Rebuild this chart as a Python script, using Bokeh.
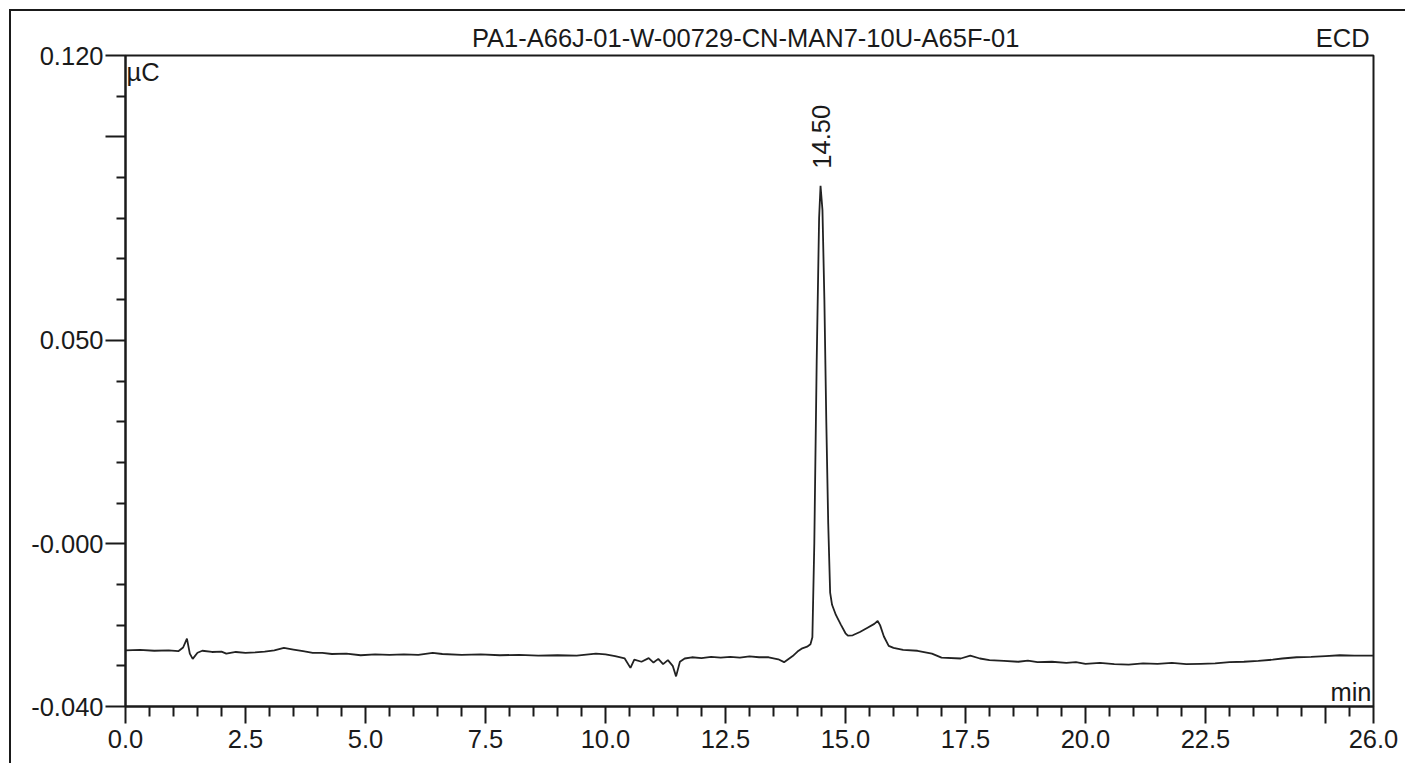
from bokeh.plotting import figure
from bokeh.models import (FixedTicker, Label, Range1d, ColumnDataSource, LinearAxis,
                          InlineStyleSheet)
from bokeh.core.properties import value
from bokeh.embed import file_html
from bokeh.resources import INLINE

# ---- data ----
time_min = [0.00, 0.30, 0.60, 0.90, 1.10, 1.20, 1.28, 1.34, 1.40, 1.50, 1.60, 1.80,
            2.00, 2.10, 2.30, 2.50, 2.70, 2.90, 3.10, 3.30, 3.50, 3.70, 3.90, 4.10,
            4.30, 4.60, 4.90, 5.20, 5.50, 5.80, 6.10, 6.40, 6.60, 7.00, 7.40, 7.80,
            8.20, 8.60, 9.00, 9.40, 9.80, 10.00, 10.20, 10.40, 10.52, 10.60, 10.75,
            10.90, 11.00, 11.10, 11.20, 11.30, 11.40, 11.47, 11.55, 11.65, 11.80,
            12.00, 12.20, 12.40, 12.60, 12.80, 13.00, 13.20, 13.40, 13.60, 13.72,
            13.90, 14.00, 14.10, 14.20, 14.27, 14.31, 14.35, 14.40, 14.45, 14.48,
            14.52, 14.56, 14.60, 14.64, 14.68, 14.72, 14.80, 14.90, 15.00, 15.05,
            15.15, 15.30, 15.45, 15.60, 15.67, 15.72, 15.80, 15.90, 16.00, 16.20,
            16.50, 16.80, 17.00, 17.40, 17.60, 17.80, 18.00, 18.30, 18.60, 18.80,
            19.00, 19.30, 19.60, 19.80, 20.00, 20.30, 20.60, 20.90, 21.20, 21.50,
            21.80, 22.10, 22.40, 22.70, 23.00, 23.30, 23.60, 23.90, 24.10, 24.40,
            24.70, 25.00, 25.30, 25.60, 26.00]
signal_uC = [-0.0262, -0.0261, -0.0263, -0.0262, -0.0264, -0.0255, -0.0233, -0.0270,
             -0.0283, -0.0268, -0.0263, -0.0266, -0.0265, -0.0270, -0.0266, -0.0268,
             -0.0267, -0.0265, -0.0262, -0.0256, -0.0260, -0.0264, -0.0268, -0.0268,
             -0.0271, -0.0270, -0.0274, -0.0272, -0.0273, -0.0272, -0.0273, -0.0268,
             -0.0271, -0.0273, -0.0272, -0.0274, -0.0273, -0.0275, -0.0274, -0.0275,
             -0.0270, -0.0272, -0.0276, -0.0282, -0.0305, -0.0285, -0.0290, -0.0281,
             -0.0292, -0.0283, -0.0296, -0.0286, -0.0300, -0.0326, -0.0290, -0.0282,
             -0.0279, -0.0281, -0.0278, -0.0280, -0.0278, -0.0280, -0.0277, -0.0279,
             -0.0279, -0.0284, -0.0291, -0.0276, -0.0265, -0.0257, -0.0253, -0.0247,
             -0.0230, 0.0000, 0.0450, 0.0800, 0.0880, 0.0820, 0.0600, 0.0300, 0.0050,
             -0.0120, -0.0150, -0.0175, -0.0198, -0.0220, -0.0226, -0.0225, -0.0217,
             -0.0207, -0.0197, -0.0190, -0.0200, -0.0228, -0.0251, -0.0256, -0.0261,
             -0.0263, -0.0270, -0.0280, -0.0282, -0.0275, -0.0282, -0.0286, -0.0288,
             -0.0290, -0.0287, -0.0291, -0.0290, -0.0293, -0.0291, -0.0295, -0.0293,
             -0.0296, -0.0297, -0.0294, -0.0295, -0.0293, -0.0296, -0.0295, -0.0294,
             -0.0291, -0.0290, -0.0288, -0.0285, -0.0282, -0.0279, -0.0278, -0.0276,
             -0.0274, -0.0275, -0.0275]

peak_rt = [14.50]
peak_height = [0.0880]
peak_text = ["14.50"]

x_major = [0.0, 2.5, 5.0, 7.5, 10.0, 12.5, 15.0, 17.5, 20.0, 22.5, 25.0, 26.0]
x_labels = ["0.0", "2.5", "5.0", "7.5", "10.0", "12.5", "15.0", "17.5", "20.0", "22.5", "", "26.0"]
y_major = [-0.04, 0.0, 0.05, 0.1, 0.12]
y_labels = ["-0.040", "-0.000", "0.050", "", "0.120"]
y_minor = [-0.03, -0.02, -0.01, 0.01, 0.02, 0.03, 0.04, 0.06, 0.07, 0.08, 0.09, 0.11]

header_texts = ["PA1-A66J-01-W-00729-CN-MAN7-10U-A65F-01", "ECD"]
y_unit_text = "µC"
x_unit_text = "min"

X_MIN, X_MAX = 0.0, 26.0
Y_MIN, Y_MAX = -0.040, 0.120

FONT = "Liberation Sans"
FS = "25.5px"
INK = "#1a1a1a"

# header text anchor positions (layout, in minutes along the top edge)
header_pos = [12.92, 25.36]

x_minor = [k * 0.5 for k in range(0, 53) if (k * 0.5) not in x_major]

frame_css = InlineStyleSheet(css="""
:host::after {
  content: "";
  position: absolute;
  left: 9px; top: 9px; right: 0px; bottom: 0px;
  border-left: 2px solid #1a1a1a;
  border-top: 2px solid #1a1a1a;
  pointer-events: none;
}
""")

p = figure(width=1405, height=763, output_backend="svg", toolbar_location=None,
           x_range=Range1d(X_MIN, X_MAX), y_range=Range1d(Y_MIN, Y_MAX),
           min_border_left=125, min_border_right=32, min_border_top=55,
           min_border_bottom=57, stylesheets=[frame_css])
p.background_fill_color = "white"
p.border_fill_color = "white"
p.grid.visible = False
p.outline_line_color = INK
p.outline_line_width = 2

src = ColumnDataSource(dict(t=time_min, v=signal_uC))
p.line("t", "v", source=src, line_color="#222222", line_width=1.8)

# axes
xa = p.xaxis[0]
xa.ticker = FixedTicker(ticks=x_major, minor_ticks=x_minor)
xa.major_label_overrides = {t: l for t, l in zip(x_major, x_labels)}
ya = p.yaxis[0]
ya.ticker = FixedTicker(ticks=y_major, minor_ticks=y_minor)
ya.major_label_overrides = {t: l for t, l in zip(y_major, y_labels)}

for ax in (xa, ya):
    ax.axis_line_color = INK
    ax.axis_line_width = 2
    ax.major_tick_line_color = INK
    ax.minor_tick_line_color = INK
    ax.major_tick_line_width = 2
    ax.minor_tick_line_width = 2
    ax.major_tick_in = 0
    ax.minor_tick_in = 0
    ax.major_label_text_font = FONT
    ax.major_label_text_font_size = FS
    ax.major_label_text_color = INK

xa.major_tick_out = 17
xa.minor_tick_out = 10
xa.major_label_standoff = 6
ya.major_tick_out = 20
ya.minor_tick_out = 9
ya.major_label_standoff = 2

# header line: sample name and detector
top = LinearAxis(ticker=FixedTicker(ticks=header_pos, minor_ticks=[]),
                 major_label_overrides={t: l for t, l in zip(header_pos, header_texts)},
                 axis_line_color=None, major_tick_line_color=None,
                 minor_tick_line_color=None, major_tick_out=0, major_tick_in=0,
                 major_label_standoff=4, major_label_text_font=FONT,
                 major_label_text_font_size=FS, major_label_text_color=INK)
p.add_layout(top, "above")

# peak annotation
px_per_unit = 651 / (Y_MAX - Y_MIN)
gap = 17 / px_per_unit
psrc = ColumnDataSource(dict(x=peak_rt, y=[h + gap for h in peak_height], txt=peak_text))
p.text(x="x", y="y", text="txt", source=psrc, angle=1.5708,
       text_align="left", text_baseline="middle",
       text_font=value(FONT), text_font_size=value(FS), text_color=INK)

# units
p.add_layout(Label(x=X_MIN, y=Y_MAX - 2 / px_per_unit, x_offset=1, text=y_unit_text,
                   text_align="left", text_baseline="top",
                   text_font=FONT, text_font_size=FS, text_color=INK))
p.add_layout(Label(x=X_MAX, y=Y_MIN + 15 / px_per_unit, x_offset=-2, text=x_unit_text,
                   text_align="right", text_baseline="alphabetic",
                   text_font=FONT, text_font_size=FS, text_color=INK))

open("out.html", "w").write(file_html(p, INLINE))
